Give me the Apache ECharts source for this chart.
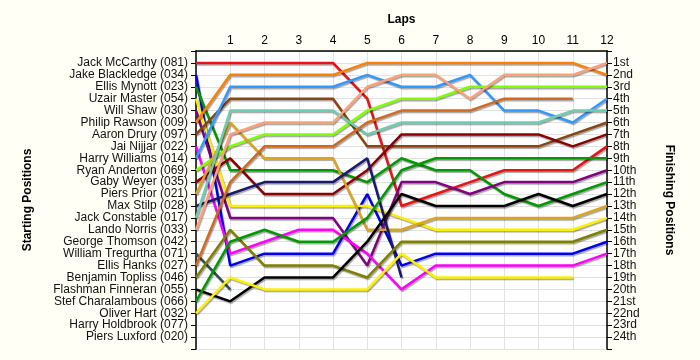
<!DOCTYPE html>
<html>
<head>
<meta charset="utf-8">
<script src="https://cdn.jsdelivr.net/npm/echarts@6/dist/echarts.min.js"></script>
<style>html,body{margin:0;padding:0;background:#FFFFF6;}#c{width:700px;height:360px;}</style>
</head>
<body>
<div id="c"></div>
<script>
// Lap numbers (0 = grid)
const laps = [0,1,2,3,4,5,6,7,8,9,10,11,12];
// Starting grid names (position 1..24)
const startNames = ["Jack McCarthy (081)","Jake Blackledge (034)","Ellis Mynott (023)","Uzair Master (054)","Will Shaw (030)","Philip Rawson (009)","Aaron Drury (097)","Jai Nijjar (022)","Harry Williams (014)","Ryan Anderton (069)","Gaby Weyer (035)","Piers Prior (021)","Max Stilp (028)","Jack Constable (017)","Lando Norris (033)","George Thomson (042)","William Tregurtha (071)","Ellis Hanks (027)","Benjamin Topliss (046)","Flashman Finneran (055)","Stef Charalambous (066)","Oliver Hart (032)","Harry Holdbrook (077)","Piers Luxford (020)"];
const finishLabels = ["1st","2nd","3rd","4th","5th","6th","7th","8th","9th","10th","11th","12th","13th","14th","15th","16th","17th","18th","19th","20th","21st","22nd","23rd","24th"];

// Position per lap (index = lap)
const jackMcCarthy     = [1,1,1,1,1,4,13,12,11,10,10,10,8];
const jakeBlackledge   = [2,18,17,17,17,12,18,17,17,17,17,17,16];
const ellisMynott      = [3,10,10,10,10,11,9,10,10,12,13,12,11];
const uzairMaster      = [4,13,13,13,13,13,14,15,15,15,15,15,14];
const willShaw         = [5,14,14,14,14,18,11,11,12,11,11,11,10];
const philipRawson     = [6,2,2,2,2,1,1,1,1,1,1,1,2];
const aaronDrury       = [7,4,4,4,4,8,8,8,8,8,8,7,6];
const jaiNijjar        = [8,17,16,15,15,17,20,18,18,18,18,18,17];
const harryWilliams    = [9,3,3,3,3,2,3,3,2,5,5,6,4];
const ryanAnderton     = [10,8,7,7,7,5,4,4,3,3,3,3,3];
const gabyWeyer        = [11,9,12,12,12,10,7,7,7,7,7,8,7];
const piersPrior       = [12,6,9,9,9,15,15,14,14,14,14,14,13];
const maxStilp         = [13,12,11,11,11,9,19];
const jackConstable    = [14,5,5,5,5,7,6,6,6,6,6,5,5];
const landoNorris      = [15,7,6,6,6,3,2,2,4,2,2,2,1];
const williamTregurtha = [17,20];
const ellisHanks       = [18,11,8,8,8,6,5,5,5,4,4,4];
const benjaminTopliss  = [19,15,18,18,18,19,16,16,16,16,16,16,15];
const flashmanFinneran = [20,21,19,19,19,16,12,13,13,13,12,13,12];
const stefCharalambous = [21,16,15,16,16,14,10,9,9,9,9,9,9];
const oliverHart       = [22,19,20,20,20,20,17,19,19,19,19,19];

const driverSeries = [
  ["Jack McCarthy", jackMcCarthy],
  ["Jake Blackledge", jakeBlackledge],
  ["Ellis Mynott", ellisMynott],
  ["Uzair Master", uzairMaster],
  ["Will Shaw", willShaw],
  ["Philip Rawson", philipRawson],
  ["Aaron Drury", aaronDrury],
  ["Jai Nijjar", jaiNijjar],
  ["Harry Williams", harryWilliams],
  ["Ryan Anderton", ryanAnderton],
  ["Gaby Weyer", gabyWeyer],
  ["Piers Prior", piersPrior],
  ["Max Stilp", maxStilp],
  ["Jack Constable", jackConstable],
  ["Lando Norris", landoNorris],
  ["William Tregurtha", williamTregurtha],
  ["Ellis Hanks", ellisHanks],
  ["Benjamin Topliss", benjaminTopliss],
  ["Flashman Finneran", flashmanFinneran],
  ["Stef Charalambous", stefCharalambous],
  ["Oliver Hart", oliverHart]
];
// style: line colours in the same order
const lineColors = ["#EE1111","#0000EE","#009A00","#FFF000","#800080","#FF8000","#8B4513","#FF00FF","#3399FF","#80FF00","#8B0000","#DAA520","#191970","#70CCB0","#FFA07A","#2F4F4F","#D2691E","#808000","#000000","#009A00","#FFF000"];

const series = driverSeries.map((d, i) => ({
  name: d[0],
  type: 'line',
  symbol: 'none',
  data: d[1].map((p, lap) => [laps[lap], p]),
  lineStyle: {
    color: lineColors[i], width: 2.5,
    shadowColor: 'rgba(0,0,0,0.35)', shadowOffsetX: 1, shadowOffsetY: 1.5, shadowBlur: 1
  },
  z: 3
}));

const chart = echarts.init(document.getElementById('c'), null, {renderer: 'canvas'});
const font = "Liberation Sans, Arial, sans-serif";
chart.setOption({
  animation: false,
  backgroundColor: '#FFFFF6',
  grid: {left: 196, right: 93, top: 51, bottom: 11, show: true, backgroundColor: '#FFFFFF', borderWidth: 0},
  xAxis: {
    type: 'value', position: 'top', min: 0, max: 12, interval: 1,
    name: 'Laps', nameLocation: 'middle', nameGap: 25,
    nameTextStyle: {fontFamily: font, fontSize: 12, fontWeight: 'bold', color: '#000'},
    axisLine: {show: true, lineStyle: {color: '#000', width: 1.5}},
    axisTick: {show: false},
    axisLabel: {fontFamily: font, fontSize: 12, color: '#000', margin: 4,
      formatter: v => v === 0 ? '' : String(v)},
    splitLine: {show: true, lineStyle: {color: '#E2E2E2', width: 1}}
  },
  yAxis: [{
    type: 'value', min: 0, max: 25, interval: 1, inverse: true, position: 'left',
    name: 'Starting Positions', nameLocation: 'middle', nameGap: 162, nameRotate: 90,
    nameTextStyle: {fontFamily: font, fontSize: 12, fontWeight: 'bold', color: '#000'},
    axisLine: {show: true, lineStyle: {color: '#000', width: 1.5}},
    axisTick: {show: true, length: 5, lineStyle: {color: '#000'}},
    axisLabel: {fontFamily: font, fontSize: 12, color: '#111', margin: 8,
      formatter: v => (v >= 1 && v <= 24) ? startNames[v - 1] : ''},
    splitLine: {show: true, lineStyle: {color: '#E2E2E2', width: 1}}
  }, {
    type: 'value', min: 0, max: 25, interval: 1, inverse: true, position: 'right',
    name: 'Finishing Positions', nameLocation: 'middle', nameGap: 56, nameRotate: -90,
    nameTextStyle: {fontFamily: font, fontSize: 12, fontWeight: 'bold', color: '#000'},
    axisLine: {show: true, lineStyle: {color: '#000', width: 1.5}},
    axisTick: {show: true, length: 5, lineStyle: {color: '#000'}},
    axisLabel: {fontFamily: font, fontSize: 12, color: '#111', margin: 6,
      formatter: v => (v >= 1 && v <= 24) ? finishLabels[v - 1] : ''},
    splitLine: {show: false}
  }],
  series: series
});
</script>
</body>
</html>
